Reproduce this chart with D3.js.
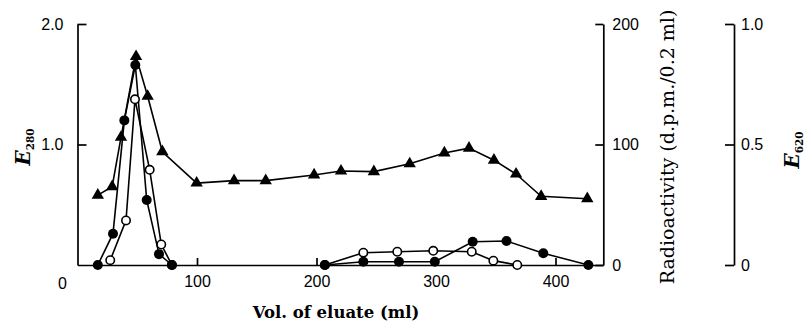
<!DOCTYPE html>
<html>
<head>
<meta charset="utf-8">
<script src="https://cdn.jsdelivr.net/npm/d3@7"></script>
<style>
  body { margin: 0; background: #fff; }
  .tick text { font-family: "Liberation Sans", Arial, sans-serif; font-size: 16px; fill: #000; }
  .domain, .tick line { stroke: #000; stroke-width: 1.7px; }
</style>
</head>
<body>
<svg width="808" height="323"></svg>
<script>
// E280 (triangles)
const triVol = [17, 29, 36.4, 49, 58.7, 71, 99.7, 131, 157.5, 198, 220.5, 248, 278, 307, 327.6, 348.5, 367, 388, 426.6];
const triE280 = [0.58, 0.65, 1.06, 1.73, 1.40, 0.94, 0.68, 0.70, 0.70, 0.747, 0.78, 0.775, 0.84, 0.93, 0.97, 0.87, 0.755, 0.57, 0.55];

// radioactivity (filled circles), two runs
const dotVol1 = [17, 29.7, 39.2, 48.4, 57.9, 68.2, 79];
const dotRad1 = [0, 26, 120, 166, 54, 9, 0];
const dotVol2 = [207, 239.2, 269, 299, 330.7, 359, 389.8, 427.5];
const dotRad2 = [0, 2.7, 2.7, 2.7, 19.3, 19.9, 9.7, 0];

// E620 (open circles), two runs
const ringVol1 = [27.4, 40.6, 48.1, 60.4, 70.1, 79];
const ringE6201 = [0.02, 0.185, 0.6875, 0.395, 0.085, 0];
const ringVol2 = [207, 239.2, 267.6, 297.7, 329.9, 348, 368];
const ringE6202 = [0, 0.051, 0.055, 0.059, 0.055, 0.018, 0];

const xTicks = [100, 200, 300, 400];
const e280Ticks = [1, 2];
const radTicks = [0, 100, 200];
const e620Ticks = [0, 0.5, 1];

const svg = d3.select('svg');

const x = d3.scaleLinear().domain([0, 440]).range([77.5, 603.3]);
const yL = d3.scaleLinear().domain([0, 2]).range([265, 24]);
const yR = d3.scaleLinear().domain([0, 200]).range([265, 24]);
const yE = d3.scaleLinear().domain([0, 1]).range([265, 24]);

// axes
svg.append('g')
   .attr('transform', `translate(0, ${yL(0)})`)
   .call(d3.axisBottom(x).tickValues(xTicks).tickSizeInner(-7).tickSizeOuter(0).tickPadding(11));

svg.append('g')
   .attr('transform', `translate(${x(0)}, 0)`)
   .call(d3.axisLeft(yL).tickValues(e280Ticks).tickSizeInner(-9).tickSizeOuter(0).tickPadding(14).tickFormat(d3.format('.1f')));

svg.append('g')
   .attr('transform', `translate(${x(440)}, 0)`)
   .call(d3.axisRight(yR).tickValues(radTicks).tickSizeInner(-8).tickSizeOuter(0).tickPadding(9));

svg.append('g')
   .attr('transform', `translate(734, 0)`)
   .call(d3.axisRight(yE).tickValues(e620Ticks).tickSizeInner(-9).tickSizeOuter(0).tickPadding(7)
         .tickFormat(d => d === 0 ? '0' : d3.format('.1f')(d)));

// the lone "0" under the corner
svg.append('text')
   .attr('x', x(0) - 15).attr('y', 289)
   .attr('text-anchor', 'middle')
   .style('font-family', '"Liberation Sans", Arial, sans-serif')
   .style('font-size', '16px')
   .text('0');

// titles
svg.append('text')
   .attr('x', 336).attr('y', 318)
   .attr('text-anchor', 'middle')
   .style('font-family', '"DejaVu Serif", serif')
   .style('font-weight', 'bold')
   .style('font-size', '16.5px')
   .text('Vol. of eluate (ml)');

svg.append('text')
   .attr('transform', 'translate(674, 147) rotate(-90)')
   .attr('text-anchor', 'middle')
   .style('font-family', '"DejaVu Serif", serif')
   .style('font-size', '19px')
   .text('Radioactivity (d.p.m./0.2 ml)');

function eLabel(cx, cy, sub) {
  const t = svg.append('text')
     .attr('transform', `translate(${cx}, ${cy}) rotate(-90)`)
     .attr('text-anchor', 'middle')
     .style('font-family', '"DejaVu Serif", serif')
     .style('font-weight', 'bold');
  t.append('tspan').style('font-style', 'italic').style('font-size', '20px').text('E');
  t.append('tspan').attr('dy', 4).style('font-size', '10.5px').text(sub);
}
eLabel(30, 147, '280');
eLabel(799, 150, '620');

// lines
const line = (xs, ys, yScale) => d3.line()
  .x((d, i) => x(xs[i]))
  .y(d => yScale(d))(ys);

const g = svg.append('g')
  .attr('fill', 'none')
  .attr('stroke', '#000')
  .attr('stroke-width', 1.6);

g.append('path').attr('d', line(triVol, triE280, yL));
g.append('path').attr('d', line(ringVol1, ringE6201, yE));
g.append('path').attr('d', line(ringVol2, ringE6202, yE));
g.append('path').attr('d', line(dotVol1, dotRad1, yR));
g.append('path').attr('d', line(dotVol2, dotRad2, yR));

// markers
const tri = d3.symbol().type(d3.symbolTriangle).size(66);
svg.append('g').selectAll('path')
   .data(triE280)
   .enter()
   .append('path')
   .attr('d', tri)
   .attr('transform', (d, i) => `translate(${x(triVol[i])}, ${yL(d)})`)
   .attr('fill', '#000');

function rings(xs, ys) {
  svg.append('g').selectAll('circle')
     .data(ys)
     .enter()
     .append('circle')
     .attr('cx', (d, i) => x(xs[i]))
     .attr('cy', d => yE(d))
     .attr('r', 4.2)
     .attr('fill', '#fff')
     .attr('stroke', '#000')
     .attr('stroke-width', 1.6);
}
rings(ringVol1, ringE6201);
rings(ringVol2, ringE6202);

function dots(xs, ys) {
  svg.append('g').selectAll('circle')
     .data(ys)
     .enter()
     .append('circle')
     .attr('cx', (d, i) => x(xs[i]))
     .attr('cy', d => yR(d))
     .attr('r', 5)
     .attr('fill', '#000');
}
dots(dotVol1, dotRad1);
dots(dotVol2, dotRad2);
</script>
</body>
</html>
